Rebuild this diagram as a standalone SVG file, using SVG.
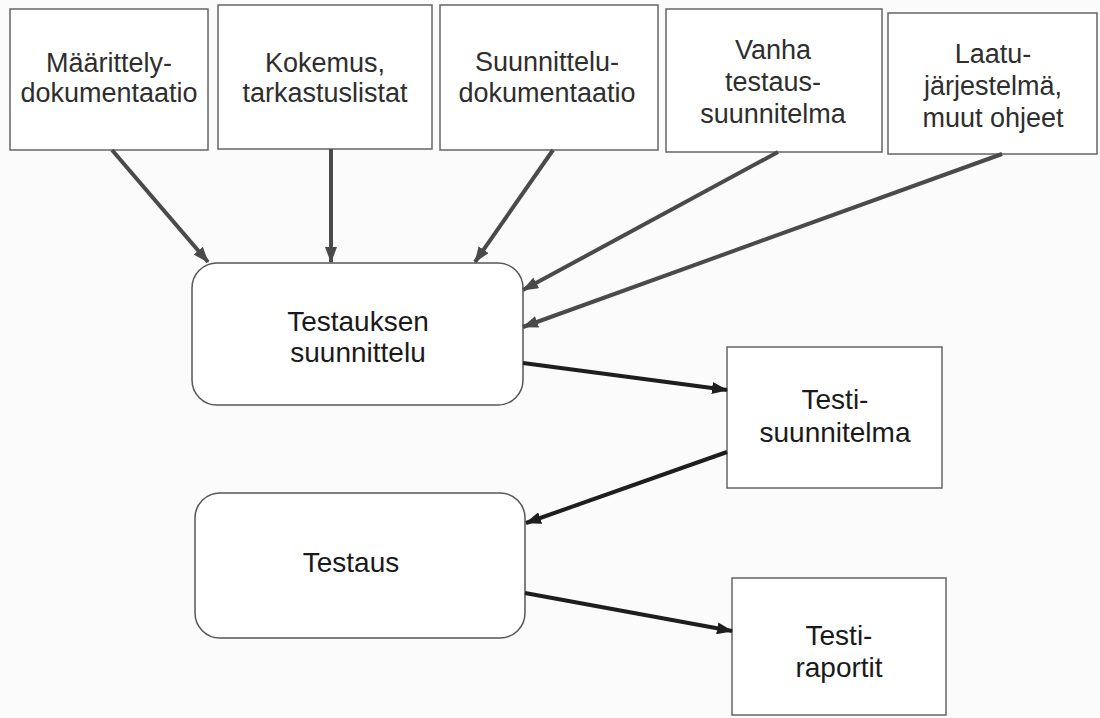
<svg xmlns="http://www.w3.org/2000/svg" width="1100" height="718" viewBox="0 0 1100 718">
<style>
.bg{fill:#fbfbfb}
.box{fill:#ffffff;stroke:#666;stroke-width:1.5}
.rbox{fill:#ffffff;stroke:#555;stroke-width:1.5}
.t{font-family:"Liberation Sans",Arial,sans-serif;font-size:27px;fill:#2e2e2e;text-anchor:middle}
.t2{font-family:"Liberation Sans",Arial,sans-serif;font-size:28px;fill:#1a1a1a;text-anchor:middle}
.ca{stroke:#4a4a4a;stroke-width:4;fill:none}
.cb{stroke:#1e1e1e;stroke-width:4;fill:none}
</style>
<defs>
<marker id="ha" viewBox="0 0 16 12" refX="15" refY="6" markerWidth="16" markerHeight="12" markerUnits="userSpaceOnUse" orient="auto">
<path d="M0,0 L16,6 L0,12 Z" fill="#4a4a4a"/>
</marker>
<marker id="hb" viewBox="0 0 16 12" refX="15" refY="6" markerWidth="16" markerHeight="12" markerUnits="userSpaceOnUse" orient="auto">
<path d="M0,0 L16,6 L0,12 Z" fill="#1e1e1e"/>
</marker>
</defs>
<rect class="bg" x="0" y="0" width="1100" height="718"/>

<g id="n1">
<rect class="box" x="10" y="9" width="198" height="141"/>
<text class="t" x="109" y="72">Määrittely-</text>
<text class="t" x="109" y="102">dokumentaatio</text>
</g>
<g id="n2">
<rect class="box" x="218" y="5" width="214" height="144"/>
<text class="t" x="325" y="72">Kokemus,</text>
<text class="t" x="325" y="102">tarkastuslistat</text>
</g>
<g id="n3">
<rect class="box" x="440" y="5" width="218" height="145"/>
<text class="t" x="547" y="71">Suunnittelu-</text>
<text class="t" x="547" y="102">dokumentaatio</text>
</g>
<g id="n4">
<rect class="box" x="666" y="9" width="216" height="143"/>
<text class="t" x="773" y="59">Vanha</text>
<text class="t" x="773" y="91">testaus-</text>
<text class="t" x="773" y="123">suunnitelma</text>
</g>
<g id="n5">
<rect class="box" x="888" y="13" width="209" height="141"/>
<text class="t" x="993" y="63">Laatu-</text>
<text class="t" x="993" y="95">järjestelmä,</text>
<text class="t" x="993" y="127">muut ohjeet</text>
</g>

<g id="n6">
<rect class="rbox" x="192" y="263" width="331" height="142" rx="25" ry="25"/>
<text class="t2" x="358" y="331">Testauksen</text>
<text class="t2" x="358" y="362">suunnittelu</text>
</g>
<g id="n7">
<rect class="box" x="727" y="347" width="215" height="141"/>
<text class="t2" x="835" y="409">Testi-</text>
<text class="t2" x="835" y="442">suunnitelma</text>
</g>
<g id="n8">
<rect class="rbox" x="195" y="493" width="330" height="145" rx="25" ry="25"/>
<text class="t2" x="351" y="572">Testaus</text>
</g>
<g id="n9">
<rect class="box" x="732" y="578" width="214" height="137"/>
<text class="t2" x="839" y="645">Testi-</text>
<text class="t2" x="839" y="677">raportit</text>
</g>

<g id="connectors">
<line class="ca" x1="112" y1="150" x2="208" y2="262" marker-end="url(#ha)"/>
<line class="ca" x1="331" y1="149" x2="331" y2="262" marker-end="url(#ha)"/>
<line class="ca" x1="553" y1="150" x2="475" y2="262" marker-end="url(#ha)"/>
<line class="ca" x1="778" y1="152" x2="523" y2="290" marker-end="url(#ha)"/>
<line class="ca" x1="1002" y1="154" x2="523" y2="327" marker-end="url(#ha)"/>
<line class="cb" x1="523" y1="363" x2="727" y2="390" marker-end="url(#hb)"/>
<line class="cb" x1="727" y1="452" x2="526" y2="523" marker-end="url(#hb)"/>
<line class="cb" x1="525" y1="593" x2="732" y2="631" marker-end="url(#hb)"/>
</g>
</svg>
